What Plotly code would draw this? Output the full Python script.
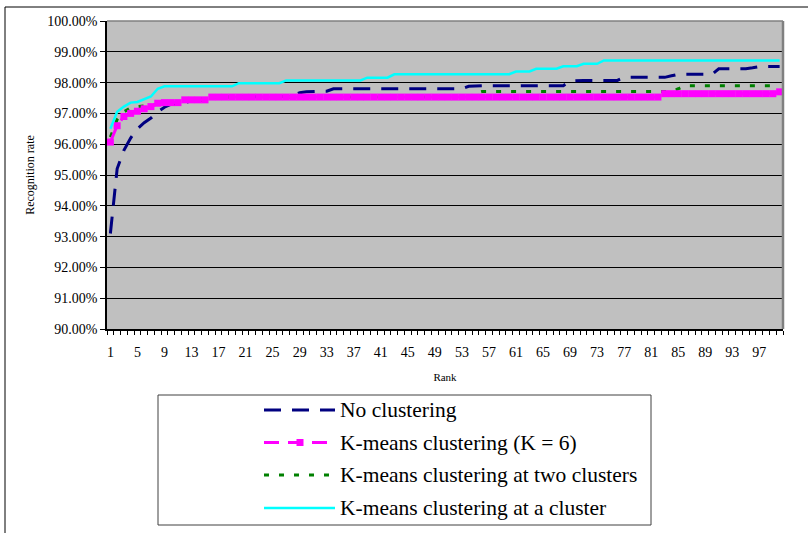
import plotly.graph_objects as go

# ---------------- data ----------------
ranks = list(range(1, 101))
tick_ranks = [1, 5, 9, 13, 17, 21, 25, 29, 33, 37, 41, 45, 49, 53, 57, 61, 65, 69, 73, 77, 81, 85, 89, 93, 97]
y_ticks = [90, 91, 92, 93, 94, 95, 96, 97, 98, 99, 100]
y_tick_text = ["90.00%", "91.00%", "92.00%", "93.00%", "94.00%", "95.00%",
               "96.00%", "97.00%", "98.00%", "99.00%", "100.00%"]

series_names = [
    "No clustering",
    "K-means clustering (K = 6)",
    "K-means clustering at two clusters",
    "K-means clustering at a cluster",
]

no_clustering = [
    93.10, 95.20, 95.80, 96.20, 96.50, 96.70, 96.85, 97.05, 97.20, 97.30,
    97.32, 97.35, 97.40, 97.45, 97.48, 97.53, 97.53, 97.53, 97.53, 97.53,
    97.53, 97.53, 97.53, 97.53, 97.53, 97.53, 97.55, 97.60, 97.67, 97.70,
    97.72, 97.72, 97.72, 97.80, 97.80, 97.80, 97.80, 97.80, 97.80, 97.80,
    97.80, 97.80, 97.80, 97.80, 97.80, 97.80, 97.80, 97.80, 97.80, 97.80,
    97.80, 97.80, 97.80, 97.88, 97.90, 97.90, 97.90, 97.90, 97.90, 97.90,
    97.90, 97.90, 97.90, 97.90, 97.90, 97.90, 97.90, 97.90, 98.05, 98.07,
    98.07, 98.07, 98.07, 98.07, 98.07, 98.07, 98.17, 98.17, 98.17, 98.17,
    98.17, 98.17, 98.17, 98.22, 98.27, 98.27, 98.27, 98.27, 98.27, 98.27,
    98.45, 98.45, 98.45, 98.45, 98.45, 98.48, 98.52, 98.52, 98.52, 98.52,
]

kmeans_k6 = [
    96.07, 96.60, 96.90, 97.00, 97.07, 97.15, 97.22, 97.33, 97.35, 97.35,
    97.35, 97.44, 97.44, 97.44, 97.44, 97.53, 97.53, 97.53, 97.53, 97.53,
    97.53, 97.53, 97.53, 97.53, 97.53, 97.53, 97.53, 97.53, 97.53, 97.53,
    97.53, 97.53, 97.53, 97.53, 97.53, 97.53, 97.53, 97.53, 97.53, 97.53,
    97.53, 97.53, 97.53, 97.53, 97.53, 97.53, 97.53, 97.53, 97.53, 97.53,
    97.53, 97.53, 97.53, 97.53, 97.53, 97.53, 97.53, 97.53, 97.53, 97.53,
    97.53, 97.53, 97.53, 97.53, 97.53, 97.53, 97.53, 97.53, 97.53, 97.53,
    97.53, 97.53, 97.53, 97.53, 97.53, 97.53, 97.53, 97.53, 97.53, 97.53,
    97.53, 97.53, 97.64, 97.64, 97.64, 97.64, 97.64, 97.64, 97.64, 97.64,
    97.64, 97.64, 97.64, 97.64, 97.64, 97.64, 97.64, 97.64, 97.64, 97.70,
]

two_clusters = [
    96.23, 96.80, 97.05, 97.18, 97.22, 97.25, 97.28, 97.30, 97.32, 97.33,
    97.35, 97.42, 97.42, 97.42, 97.42, 97.53, 97.53, 97.53, 97.53, 97.53,
    97.53, 97.53, 97.53, 97.53, 97.53, 97.53, 97.53, 97.53, 97.53, 97.53,
    97.53, 97.53, 97.53, 97.53, 97.53, 97.53, 97.53, 97.53, 97.53, 97.53,
    97.53, 97.53, 97.53, 97.53, 97.53, 97.53, 97.53, 97.53, 97.53, 97.53,
    97.53, 97.53, 97.53, 97.53, 97.65, 97.71, 97.71, 97.71, 97.71, 97.71,
    97.71, 97.71, 97.71, 97.71, 97.71, 97.71, 97.71, 97.71, 97.71, 97.71,
    97.71, 97.71, 97.71, 97.71, 97.71, 97.71, 97.71, 97.71, 97.71, 97.71,
    97.71, 97.71, 97.71, 97.71, 97.80, 97.90, 97.90, 97.90, 97.90, 97.90,
    97.90, 97.90, 97.90, 97.90, 97.90, 97.90, 97.90, 97.90, 97.90, 97.90,
]

one_cluster = [
    96.50, 97.05, 97.22, 97.35, 97.37, 97.45, 97.55, 97.80, 97.88, 97.88,
    97.88, 97.88, 97.88, 97.88, 97.88, 97.88, 97.88, 97.88, 97.88, 97.98,
    97.98, 97.98, 97.98, 97.98, 97.98, 97.98, 98.07, 98.07, 98.07, 98.07,
    98.07, 98.07, 98.07, 98.07, 98.07, 98.07, 98.07, 98.07, 98.16, 98.16,
    98.16, 98.16, 98.27, 98.27, 98.27, 98.27, 98.27, 98.27, 98.27, 98.27,
    98.27, 98.27, 98.27, 98.27, 98.27, 98.27, 98.27, 98.27, 98.27, 98.27,
    98.36, 98.36, 98.36, 98.45, 98.45, 98.45, 98.45, 98.53, 98.53, 98.53,
    98.61, 98.61, 98.61, 98.72, 98.72, 98.72, 98.72, 98.72, 98.72, 98.72,
    98.72, 98.72, 98.72, 98.72, 98.72, 98.72, 98.72, 98.72, 98.72, 98.72,
    98.72, 98.72, 98.72, 98.72, 98.72, 98.72, 98.72, 98.72, 98.72, 98.72,
]

# ---------------- styling ----------------
FONT = "Liberation Serif, Times New Roman, serif"
NAVY = "#000080"
PINK = "#FF00FF"
GREEN = "#008000"
CYAN = "#00FFFF"

W, H = 808, 533
ML, MR, MT, MB = 107, 25, 21, 204
PW = W - ML - MR
PH = H - MT - MB


def px_x(x):
    return (x - ML) / PW


def px_y(y):
    return (H - MB - y) / PH


fig = go.Figure()

fig.add_trace(go.Scatter(x=ranks, y=no_clustering, name=series_names[0], mode="lines",
                         line=dict(color=NAVY, width=3, dash="17px,11px")))
fig.add_trace(go.Scatter(x=ranks, y=two_clusters, name=series_names[2], mode="lines",
                         line=dict(color=GREEN, width=3, dash="5px,10px")))
fig.add_trace(go.Scatter(x=ranks, y=kmeans_k6, name=series_names[1], mode="lines+markers",
                         line=dict(color=PINK, width=3, dash="15px,9px"),
                         marker=dict(symbol="square", size=7, color=PINK)))
fig.add_trace(go.Scatter(x=ranks, y=one_cluster, name=series_names[3], mode="lines",
                         line=dict(color=CYAN, width=2.5)))

boundaries = [r - 0.5 for r in ranks] + [ranks[-1] + 0.5]

fig.update_layout(
    width=W, height=H,
    margin=dict(l=ML, r=MR, t=MT, b=MB),
    paper_bgcolor="white",
    plot_bgcolor="#C0C0C0",
    showlegend=False,
    font=dict(family=FONT, color="black", size=14),
    xaxis=dict(
        range=[0.5, 100.5], tickvals=tick_ranks, ticks="", showgrid=False, zeroline=False,
        showline=True, linecolor="black", linewidth=1.5,
        tickfont=dict(family=FONT, size=14), ticklabelstandoff=9,
        minor=dict(tickvals=boundaries, ticks="outside", ticklen=4, tickcolor="black",
                   tickwidth=1, showgrid=False),
        title=dict(text="Rank", font=dict(family=FONT, size=11), standoff=15),
    ),
    xaxis2=dict(
        range=[0.5, 100.5], overlaying="x", anchor="y", side="bottom",
        tickvals=boundaries, ticks="inside", ticklen=4, tickcolor="black", tickwidth=1,
        showticklabels=False, showgrid=False, zeroline=False, showline=False,
    ),
    yaxis=dict(
        range=[90, 100], tickvals=y_ticks, ticktext=y_tick_text,
        ticks="outside", ticklen=5, tickcolor="black",
        showgrid=True, gridcolor="black", gridwidth=1, zeroline=False,
        showline=True, linecolor="black", linewidth=1.5,
        tickfont=dict(family=FONT, size=14),
        title=dict(text="Recognition rate", font=dict(family=FONT, size=12), standoff=10),
    ),
)

shapes = []
# plot-area top and right borders (gray)
shapes.append(dict(type="line", xref="paper", yref="paper", x0=0, x1=1, y0=1, y1=1,
                   line=dict(color="#808080", width=1.5)))
shapes.append(dict(type="line", xref="paper", yref="paper", x0=1, x1=1, y0=0, y1=1,
                   line=dict(color="#808080", width=2.5)))
# outer chart border (top and left visible)
shapes.append(dict(type="line", xref="paper", yref="paper", x0=px_x(5), x1=px_x(812),
                   y0=px_y(7), y1=px_y(7), line=dict(color="black", width=1)))
shapes.append(dict(type="line", xref="paper", yref="paper", x0=px_x(5), x1=px_x(5),
                   y0=px_y(7), y1=px_y(540), line=dict(color="black", width=1)))
# legend box
shapes.append(dict(type="rect", xref="paper", yref="paper", x0=px_x(158), x1=px_x(651),
                   y0=px_y(525), y1=px_y(395), line=dict(color="#404040", width=1),
                   fillcolor="white"))

legend_rows = [410, 442.5, 475, 508]
legend_styles = [
    dict(color=NAVY, width=3, dash="17px,11px"),
    dict(color=PINK, width=3, dash="15px,9px"),
    dict(color=GREEN, width=3, dash="5px,10px"),
    dict(color=CYAN, width=2.5),
]
annotations = []
for name, row, style in zip(series_names, legend_rows, legend_styles):
    shapes.append(dict(type="line", xref="paper", yref="paper", x0=px_x(264), x1=px_x(335),
                       y0=px_y(row), y1=px_y(row), line=style))
    annotations.append(dict(text=name, xref="paper", yref="paper", x=px_x(338), y=px_y(row),
                            xanchor="left", yanchor="middle", showarrow=False,
                            font=dict(family=FONT, size=21.5, color="black")))
# marker in the K=6 legend sample
shapes.append(dict(type="rect", xref="paper", yref="paper", x0=px_x(296.5), x1=px_x(303.5),
                   y0=px_y(legend_rows[1] + 3.5), y1=px_y(legend_rows[1] - 3.5),
                   line=dict(width=0), fillcolor=PINK))

fig.update_layout(shapes=shapes, annotations=annotations)

fig.write_html(
    "out.html",
    config={"displayModeBar": False},
    post_script="document.body.style.margin='0';document.body.style.overflow='hidden';",
)
